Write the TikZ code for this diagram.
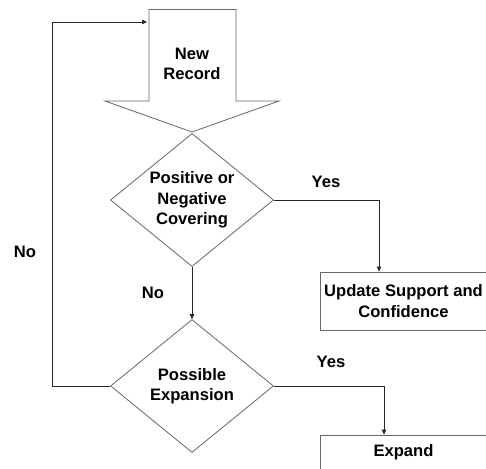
\documentclass[tikz,border=0pt]{standalone}
\usepackage{fontspec}
\setmainfont{Liberation Sans}
\usetikzlibrary{shapes.geometric,arrows.meta}
\begin{document}
\begin{tikzpicture}[x=1pt,y=-1pt,
  shapeline/.style={draw=black!60, line width=0.8pt},
  conn/.style={draw=black!85, line width=0.8pt, -{Triangle[length=5pt,width=4.5pt]}},
  lbl/.style={font=\fontsize{16.6}{20.5}\selectfont\bfseries, align=center, inner sep=0pt},
  decision/.style={lbl, shapeline, diamond, aspect=1.23, inner sep=0pt, minimum width=163pt, minimum height=133pt},
  procbox/.style={lbl, shapeline, rectangle, minimum width=167pt}
]
\useasboundingbox (0,0) rectangle (486,468);
\clip (0,0) rectangle (486,468);
% block arrow "New Record"
\draw[shapeline, fill=white] (149,9.5) -- (236,9.5) -- (236,101) -- (279,101) -- (192,132) -- (105,101) -- (149,101) -- cycle;
\node[lbl] (newrec) at (192,64) {New\\Record};
\coordinate (arrin) at (147,22);
% decisions
\node[decision] (cover) at (192,200) {Positive or\\Negative\\Covering};
\node[decision] (expan) at (192,386) {Possible\\Expansion};
% process boxes
\node[procbox, minimum height=58pt] (update) at (403.5,301) {Update Support and\\Confidence};
\node[procbox, minimum height=34pt] (expand) at (403.5,452) {Expand};
% connectors
\draw[conn] (cover.east) -| ([xshift=-24.5pt]update.north);
\draw[conn] (cover.south) -- (expan.north);
\draw[conn] (expan.east) -| ([xshift=-19.5pt]expand.north);
\coordinate (loopcorner) at (52,22);
\draw[conn] (expan.west) -| (loopcorner) -- (arrin);
% labels
\node[lbl] (yes1) at (326,182) {Yes};
\node[lbl] (yes2) at (331,362) {Yes};
\node[lbl] (no1) at (25,252) {No};
\node[lbl] (no2) at (153,293) {No};
\end{tikzpicture}
\end{document}
